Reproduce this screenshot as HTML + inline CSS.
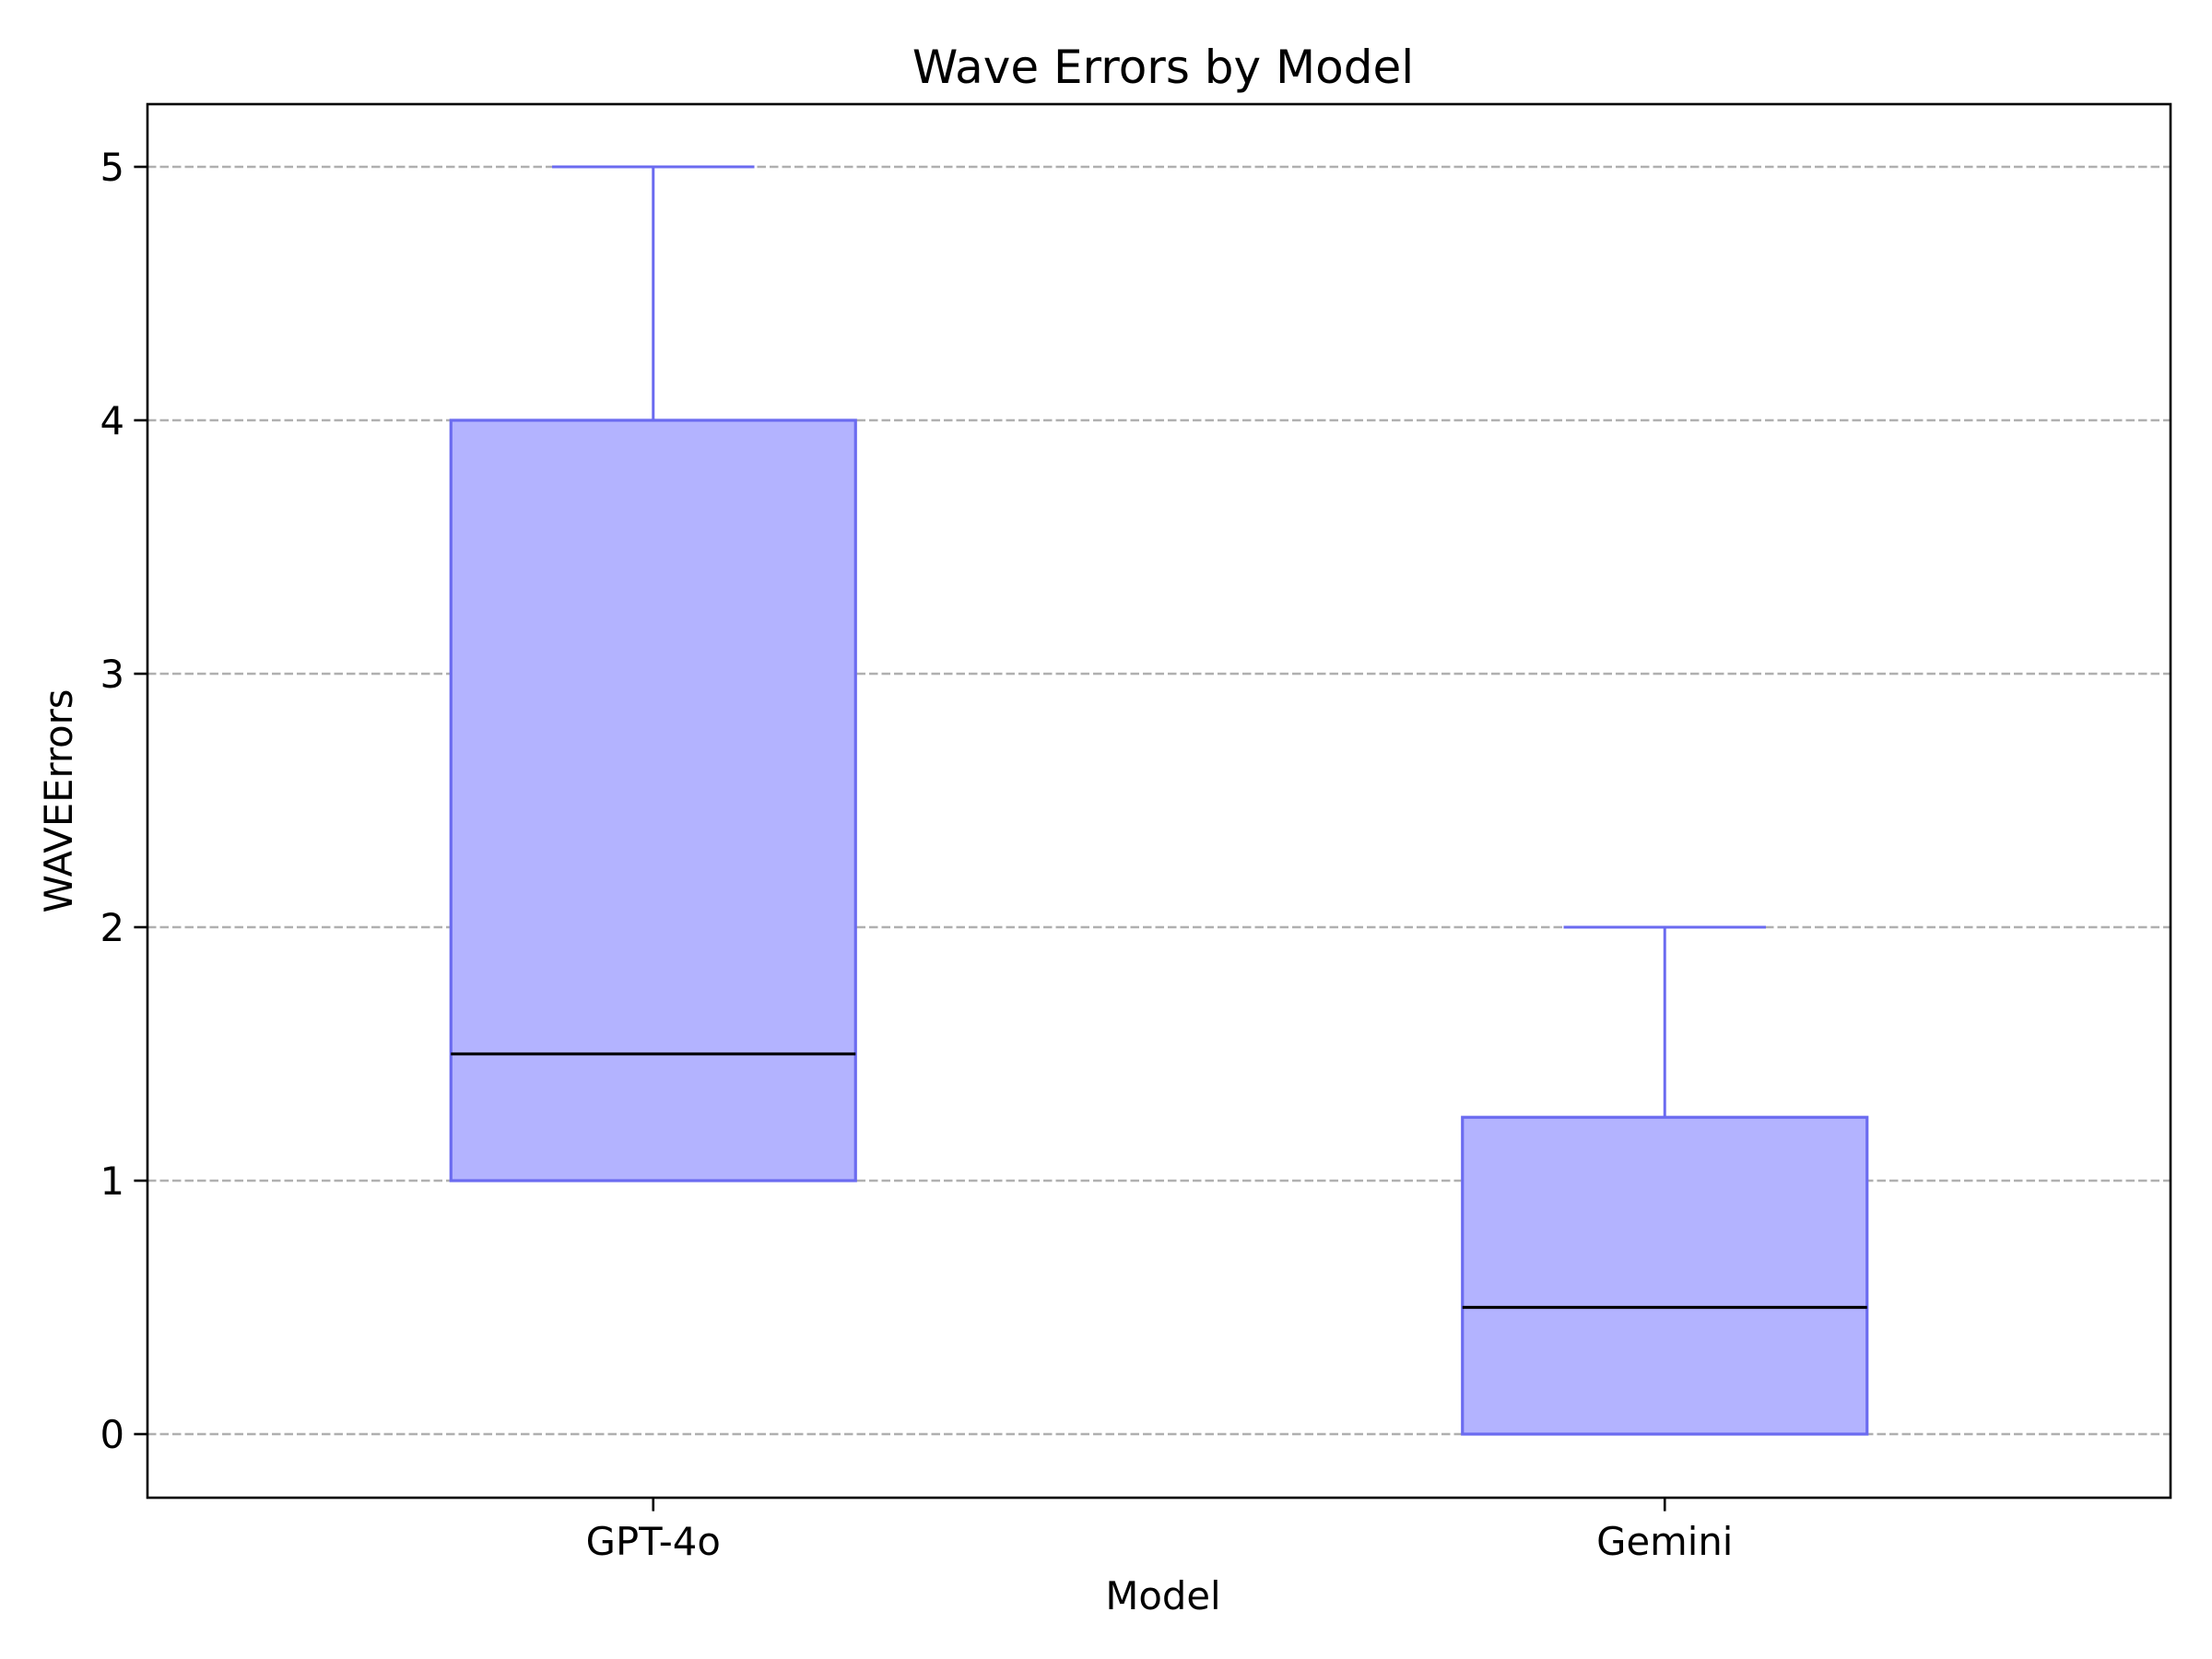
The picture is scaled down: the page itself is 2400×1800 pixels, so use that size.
<!DOCTYPE html>
<html><head><meta charset="utf-8"><style>
html,body{margin:0;padding:0;background:#fff;}
svg{display:block;font-family:"DejaVu Sans","Liberation Sans",sans-serif;}
</style></head><body>
<svg id="chart" width="2400" height="1800" viewBox="0 0 2400 1800">
<rect x="0" y="0" width="2400" height="1800" fill="#fff"/>
<g id="grid"></g>
<g id="boxes"></g>
<rect x="160" y="113" width="2195" height="1512" fill="none" stroke="#000" stroke-width="2.6"/>
<g id="yticks"></g>
<g id="xticks"></g>
<text x="1262" y="90" font-size="50" text-anchor="middle">Wave Errors by Model</text>
<text x="1262" y="1746" font-size="41.7" text-anchor="middle">Model</text>
<text transform="translate(78,869) rotate(-90)" font-size="41.7" text-anchor="middle">WAVEErrors</text>
</svg>
<script>
const categories = ["GPT-4o", "Gemini"];
const whiskerLow = [1, 0];
const q1 = [1, 0];
const median = [1.5, 0.5];
const q3 = [4, 1.25];
const whiskerHigh = [5, 2];
const yTicks = [0, 1, 2, 3, 4, 5];

const NS = "http://www.w3.org/2000/svg";
const L = 160, R = 2355, T = 113, B = 1625;
function yS(v){ return 1556 - v * 275; }
function xS(i){ return L + (i + 0.5) * (R - L) / categories.length; }
const unit = (R - L) / categories.length;
function mk(tag, attrs, parent){
  const e = document.createElementNS(NS, tag);
  for (const k in attrs) e.setAttribute(k, attrs[k]);
  parent.appendChild(e);
  return e;
}
const grid = document.getElementById("grid");
const yt = document.getElementById("yticks");
yTicks.forEach(v => {
  const y = yS(v);
  const g = mk("line", {x1:L, x2:R, y1:y, y2:y, stroke:"#b0b0b0", "stroke-width":2.5, "stroke-dasharray":"9.5,4"}, grid);
  
  
  const t = mk("line", {x1:L-14.6, x2:L, y1:y, y2:y, stroke:"#000", "stroke-width":2.6}, yt);
  
  
  const lb = mk("text", {x:L-25, y:y+15, "font-size":41.7, "text-anchor":"end"}, yt);
  lb.textContent = v;
  
  
});
const xt = document.getElementById("xticks");
const bx = document.getElementById("boxes");
const edge = "#6b6bf0";
categories.forEach((c, i) => {
  const x = xS(i);
  const t = mk("line", {x1:x, x2:x, y1:B, y2:B+14.6, stroke:"#000", "stroke-width":2.6}, xt);
  
  
  const lb = mk("text", {x:x, y:B+62, "font-size":41.7, "text-anchor":"middle"}, xt);
  lb.textContent = c;
  
  
  const hw = unit * 0.2, cw = unit * 0.1;
  const g = mk("g", {}, bx);
  
  
  const wl = mk("line", {x1:x, x2:x, y1:yS(q3[i]), y2:yS(whiskerHigh[i]), stroke:edge, "stroke-width":3}, g);
  
  
  const wl2 = mk("line", {x1:x, x2:x, y1:yS(q1[i]), y2:yS(whiskerLow[i]), stroke:edge, "stroke-width":3}, g);
  
  
  const ch = mk("line", {x1:x-cw, x2:x+cw, y1:yS(whiskerHigh[i]), y2:yS(whiskerHigh[i]), stroke:edge, "stroke-width":3}, g);
  
  
  const cl = mk("line", {x1:x-cw, x2:x+cw, y1:yS(whiskerLow[i]), y2:yS(whiskerLow[i]), stroke:edge, "stroke-width":3}, g);
  
  
  const r = mk("rect", {x:x-hw, y:yS(q3[i]), width:2*hw, height:yS(q1[i])-yS(q3[i]), fill:"#b3b3ff", stroke:edge, "stroke-width":3.2}, g);
  
  
  const m = mk("line", {x1:x-hw, x2:x+hw, y1:yS(median[i]), y2:yS(median[i]), stroke:"#000", "stroke-width":3.2}, g);
  
  
});
</script>
</body></html>
